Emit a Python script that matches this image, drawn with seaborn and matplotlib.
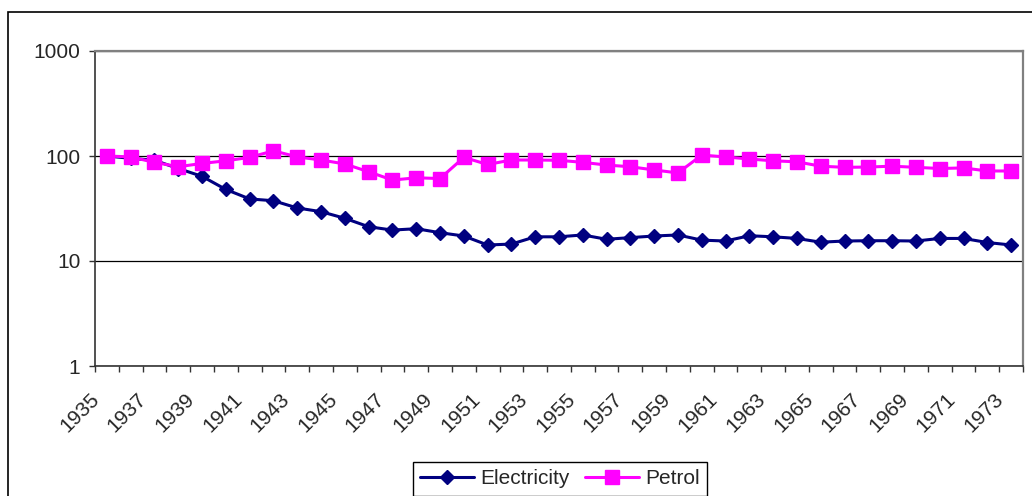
# relative price index, log scale, 1935-1973
import numpy as np
import matplotlib
matplotlib.use("Agg")
import matplotlib.pyplot as plt
import seaborn as sns
import pandas as pd
from matplotlib.patches import Rectangle
from matplotlib.transforms import ScaledTranslation
from matplotlib.ticker import FixedLocator, FixedFormatter, NullFormatter

# -------------------------------------------------------------------
# data
# -------------------------------------------------------------------
years = list(range(1935, 1974))
electricity = [100, 95, 91, 76, 64, 48, 39, 37.5, 32, 29.5, 25.5, 21.2, 19.7,
               20.3, 18.6, 17.3, 14.2, 14.5, 17.0, 17.0, 17.7, 16.1, 16.7, 17.3, 17.7,
               15.8, 15.5, 17.4, 17.0, 16.4, 15.1, 15.5, 15.6, 15.6, 15.5, 16.4, 16.4,
               15.0, 14.2]
petrol = [100, 98, 87, 79, 85, 90, 97, 112, 98, 91.6, 84, 70.8, 59,
          62, 61, 97, 83, 91.6, 91.6, 91, 87, 82, 79, 73.6, 69,
          102, 98, 93.6, 90, 88, 80, 78, 78.5, 80, 78, 76, 77, 72, 72]
series_names = ["Electricity", "Petrol"]
y_ticks = [1, 10, 100, 1000]
label_years = years[::2]

# -------------------------------------------------------------------
# plot
# -------------------------------------------------------------------
sns.set_style("white")
plt.rcParams['font.family'] = ['Liberation Sans', 'DejaVu Sans']
fs = 15

fig = plt.figure(figsize=(10.32, 4.96), dpi=100)
ax = fig.add_axes([95 / 1032, 1 - 366 / 496, 928 / 1032, 315 / 496])

sns.lineplot(x=years, y=electricity, ax=ax, color="#000080", linewidth=2.2,
             marker="D", markersize=7, markeredgecolor="#000080",
             markeredgewidth=1, label=series_names[0])
sns.lineplot(x=years, y=petrol, ax=ax, color="#FF00FF", linewidth=2.2,
             marker="s", markersize=10.5, markeredgecolor="#FF00FF",
             markeredgewidth=1, label=series_names[1])

ax.set_yscale("log")
ax.set_ylim(1, 1000)
ax.set_xlim(years[0] - 0.5, years[-1] + 0.5)

ax.yaxis.set_major_locator(FixedLocator(y_ticks))
ax.yaxis.set_major_formatter(FixedFormatter([str(v) for v in y_ticks]))
ax.yaxis.set_minor_locator(FixedLocator([]))
ax.grid(axis="y", which="major", color="black", linewidth=0.9)

ax.xaxis.set_major_locator(FixedLocator(label_years))
ax.xaxis.set_major_formatter(FixedFormatter([str(y) for y in label_years]))
ax.xaxis.set_minor_locator(FixedLocator([y - 0.5 for y in years] + [years[-1] + 0.5]))
ax.xaxis.set_minor_formatter(NullFormatter())

ax.tick_params(axis="y", which="major", left=True, length=4.5, width=1,
               color="#333333", direction="out", pad=6, labelsize=fs)
ax.tick_params(axis="x", which="major", bottom=True, length=0, pad=17, labelsize=fs)
ax.tick_params(axis="x", which="minor", bottom=True, length=4.5, width=1,
               color="#333333", direction="out")
ax.set_xlabel("")
ax.set_ylabel("")

off = ScaledTranslation(-4 / 100, 0, fig.dpi_scale_trans)
for lab in ax.get_xticklabels():
    lab.set_rotation(45)
    lab.set_ha("right")
    lab.set_va("top")
    lab.set_transform(lab.get_transform() + off)

for side in ["top", "right"]:
    ax.spines[side].set_visible(True)
    ax.spines[side].set_color("#808080")
    ax.spines[side].set_linewidth(1.6)
for side in ["left", "bottom"]:
    ax.spines[side].set_color("#333333")
    ax.spines[side].set_linewidth(1.2)

ax.legend_.remove()
handles = ax.get_lines()[:2]
fig.legend(handles, series_names, loc="upper center",
           bbox_to_anchor=(560 / 1032, 1 - 462 / 496), ncol=2, fontsize=fs,
           frameon=True, fancybox=False, edgecolor="black", framealpha=1,
           handlelength=2.6, handletextpad=0.3, columnspacing=0.7,
           borderpad=0.35, borderaxespad=0)
fig.legends[0].get_frame().set_linewidth(1)

# outer chart frame
fig.patches.append(Rectangle((8 / 1032, -0.2), 1.2, 1.2 + (1 - 11.5 / 496) - 1,
                             transform=fig.transFigure, fill=False,
                             edgecolor="black", linewidth=1.2))

plt.savefig("out.png", dpi=100)
